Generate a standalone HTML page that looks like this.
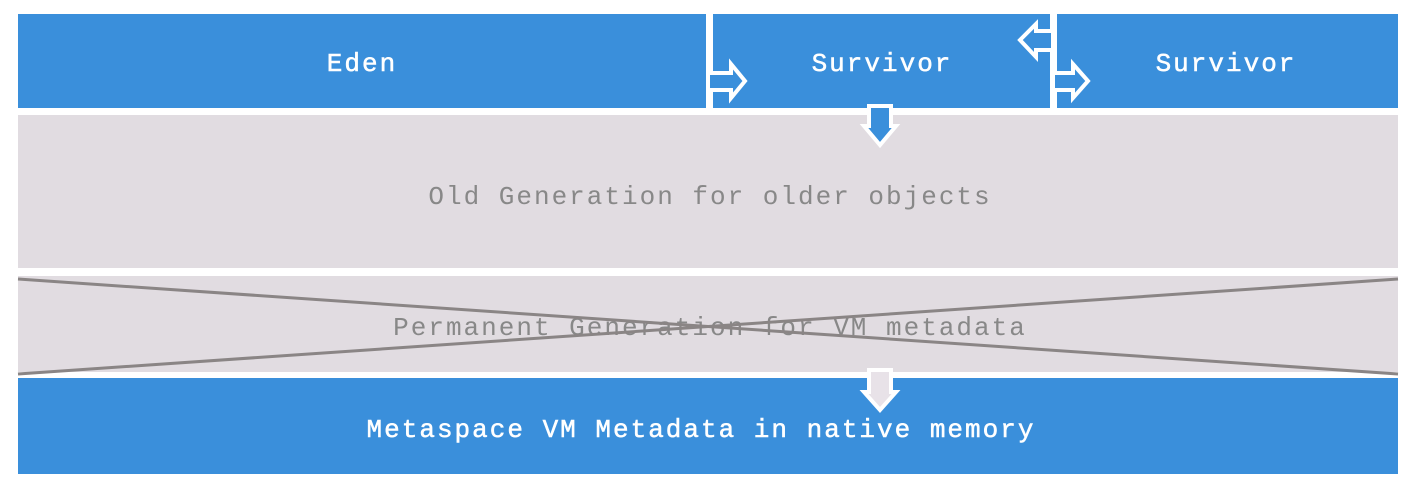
<!DOCTYPE html>
<html><head><style>
body{margin:0;background:#fff;width:1417px;height:482px;overflow:hidden}
svg text{font-family:"Liberation Mono",monospace;font-size:26px;letter-spacing:2px}
</style></head><body>
<svg width="1417" height="482" viewBox="0 0 1417 482">
<rect x="0" y="0" width="1417" height="482" fill="#fff"/>
<rect x="18" y="14" width="688" height="94" fill="#3a8fdb"/>
<rect x="713" y="14" width="337" height="94" fill="#3a8fdb"/>
<rect x="1057" y="14" width="341" height="94" fill="#3a8fdb"/>
<rect x="18" y="115" width="1380" height="153" fill="#e1dce1"/>
<rect x="18" y="276" width="1380" height="96" fill="#e1dce1"/>
<rect x="18" y="378" width="1380" height="96" fill="#3a8fdb"/>
<g fill="#3a8fdb" stroke="#fff" stroke-width="4" stroke-linejoin="miter">
<polygon points="708,73 731,73 731,64 745,81 731,98 731,90 708,90"/>
<polygon points="1053,50 1036,50 1036,57 1020,40 1036,24 1036,31 1053,31"/>
<polygon points="1053,73 1073,73 1073,64 1088,81 1073,98 1073,90 1053,90"/>
<polygon points="869,106 869,126 864,126 880,145 896,126 891,126 891,106"/>
</g>
<polygon points="869,370 869,392 864,392 880,410 896,392 891,392 891,370" fill="#e8e2e8" stroke="#fff" stroke-width="4"/>
<g fill="#fff" text-anchor="middle" stroke="#fff" stroke-width="0.5">
<text x="362" y="71">Eden</text>
<text x="882" y="71">Survivor</text>
<text x="1226" y="71">Survivor</text>
<text x="701" y="437">Metaspace VM Metadata in native memory</text>
</g>
<g fill="#888" text-anchor="middle">
<text x="710" y="204">Old Generation for older objects</text>
<text x="710" y="335">Permanent Generation for VM metadata</text>
</g>
<g stroke="#8a8585" stroke-width="3">
<line x1="18" y1="279" x2="1398" y2="374"/>
<line x1="18" y1="374" x2="1398" y2="279"/>
</g>
</svg>
</body></html>
